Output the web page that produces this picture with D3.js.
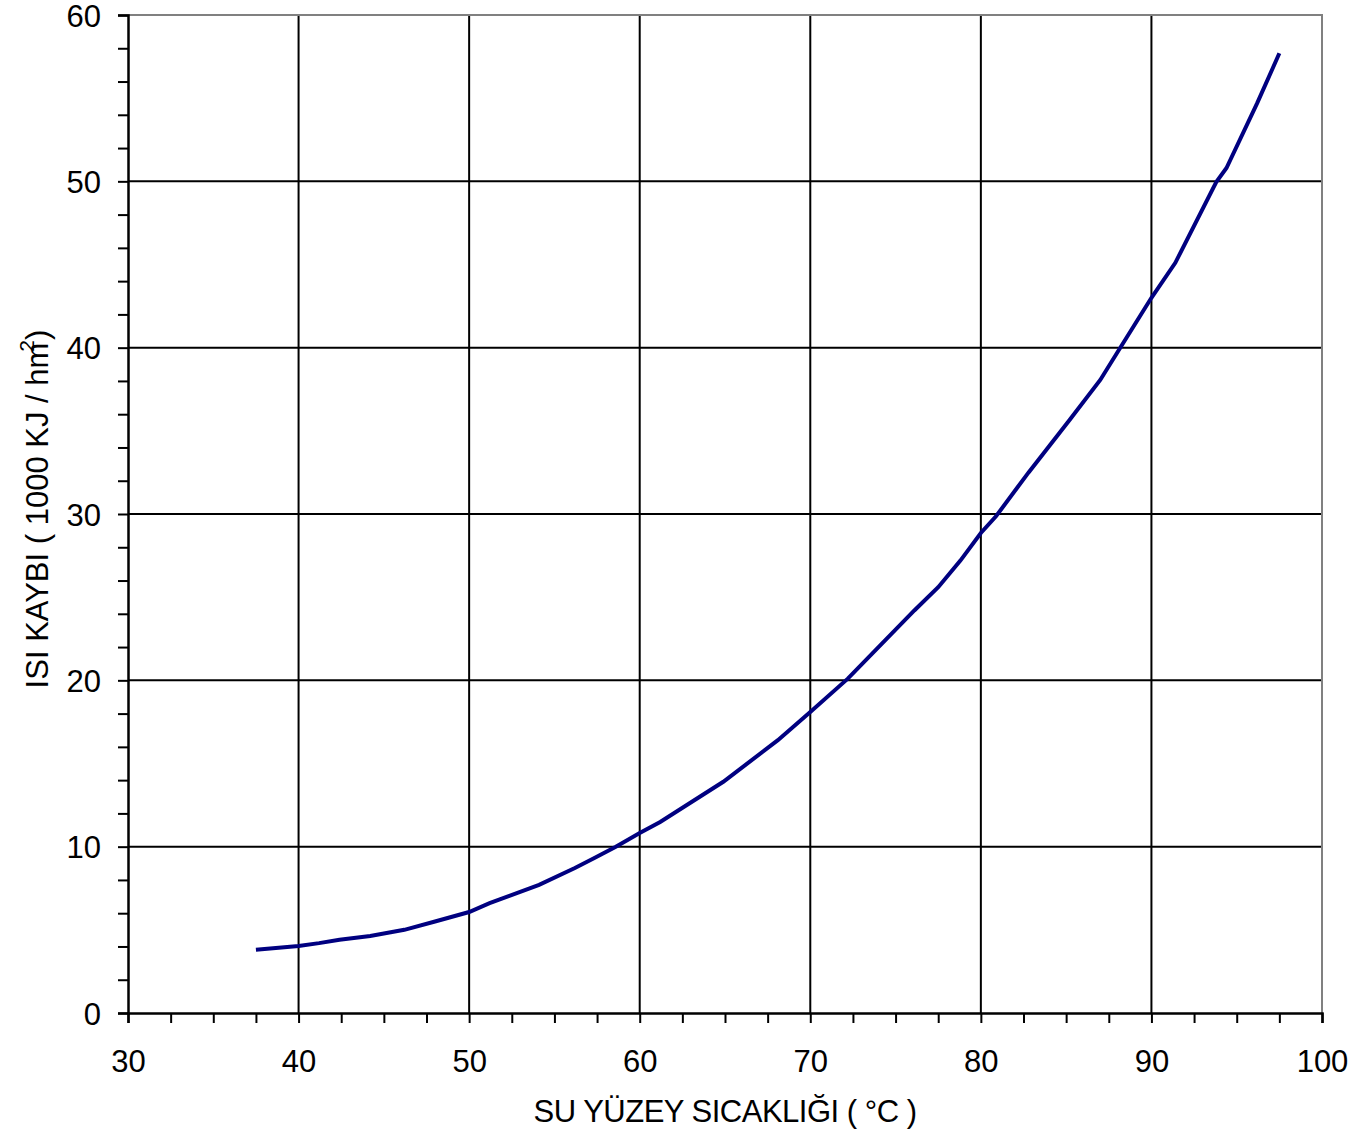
<!DOCTYPE html>
<html>
<head>
<meta charset="utf-8">
<script src="https://cdn.jsdelivr.net/npm/d3@7"></script>
<style>
  body { margin: 0; background: #fff; }
  text { font-family: "Liberation Sans", Arial, sans-serif; fill: #000; }
</style>
</head>
<body>
<svg id="chart" width="1356" height="1132"></svg>
<script>
// surface temperature (°C) vs heat loss (1000 KJ / hm2)
const temps = [37.5, 40.0, 41.2, 42.4, 44.2, 46.2, 48.0, 50.0, 51.2, 54.1, 56.2, 57.4, 58.6,
  60.0, 61.2, 64.9, 68.1, 70.0, 72.2, 76.1, 77.5, 78.8, 80.0, 80.9, 82.8, 85.2, 87.0,
  88.2, 90.0, 91.4, 93.8, 94.4, 96.2, 97.5];
const losses = [3.8, 4.03, 4.2, 4.4, 4.63, 5.0, 5.5, 6.07, 6.6, 7.7, 8.72, 9.35, 10.0,
  10.82, 11.48, 13.9, 16.4, 18.1, 20.1, 24.2, 25.6, 27.2, 28.86, 29.88, 32.5, 35.65, 38.06,
  40.04, 43.0, 45.1, 49.96, 50.8, 54.7, 57.7];
const xTicks = [30, 40, 50, 60, 70, 80, 90, 100];
const yTicks = [0, 10, 20, 30, 40, 50, 60];

const svg = d3.select("#chart");
const mLeft = 128, mRight = 1322, mTop = 15, mBottom = 1013;

const x = d3.scaleLinear().domain([30, 100]).range([mLeft, mRight]);
const y = d3.scaleLinear().domain([0, 60]).range([mBottom, mTop]);

// grid
const grid = svg.append("g").attr("stroke", "#000").attr("stroke-width", 2);
grid.selectAll("line.v")
  .data(xTicks.slice(1, -1))
  .enter().append("line")
  .attr("x1", d => x(d)).attr("x2", d => x(d))
  .attr("y1", mTop).attr("y2", mBottom);
grid.selectAll("line.h")
  .data(yTicks.slice(1, -1))
  .enter().append("line")
  .attr("y1", d => y(d)).attr("y2", d => y(d))
  .attr("x1", mLeft).attr("x2", mRight);

// top and right border
svg.append("path")
  .attr("d", `M${mLeft},${mTop}H${mRight}V${mBottom}`)
  .attr("fill", "none")
  .attr("stroke", "#808080")
  .attr("stroke-width", 2);

// axes
const xAxis = d3.axisBottom(x)
  .tickValues(d3.range(30, 100.1, 2.5))
  .tickSize(10)
  .tickFormat(d => xTicks.includes(d) ? d : "");
const gx = svg.append("g")
  .attr("transform", `translate(0,${mBottom})`)
  .call(xAxis);

const yAxis = d3.axisLeft(y)
  .tickValues(d3.range(0, 60.1, 2))
  .tickSize(10)
  .tickFormat(d => yTicks.includes(d) ? d : "");
const gy = svg.append("g")
  .attr("transform", `translate(${mLeft},0)`)
  .call(yAxis);

[gx, gy].forEach(g => {
  g.attr("font-size", 31).attr("font-family", "Liberation Sans, Arial, sans-serif");
  g.select(".domain").attr("stroke", "#000").attr("stroke-width", 2.5);
  g.selectAll(".tick line").attr("stroke", "#000").attr("stroke-width", 2);
  g.selectAll(".tick text").attr("fill", "#000");
});
gx.selectAll(".tick text").attr("dy", null).attr("y", 59);
gy.selectAll(".tick text").attr("x", -27).attr("dy", "0.36em");

// curve
const line = d3.line()
  .x(d => x(d[0]))
  .y(d => y(d[1]));
svg.append("path")
  .datum(d3.zip(temps, losses))
  .attr("d", line)
  .attr("fill", "none")
  .attr("stroke", "#000080")
  .attr("stroke-width", 4);

// titles
svg.append("text")
  .attr("x", (mLeft + mRight) / 2)
  .attr("y", 1122)
  .attr("text-anchor", "middle")
  .attr("font-size", 31)
  .attr("letter-spacing", -0.5)
  .text("SU YÜZEY SICAKLIĞI ( °C )");

const yt = svg.append("text")
  .attr("transform", `translate(48,${(mTop + mBottom) / 2 - 5}) rotate(-90)`)
  .attr("text-anchor", "middle")
  .attr("font-size", 31);
yt.append("tspan").text("ISI KAYBI ( 1000 KJ / hm");
yt.append("tspan").attr("font-size", 21).attr("dy", -14).attr("dx", -9).text("2");
yt.append("tspan").attr("dy", 14).text(")");
</script>
</body>
</html>
